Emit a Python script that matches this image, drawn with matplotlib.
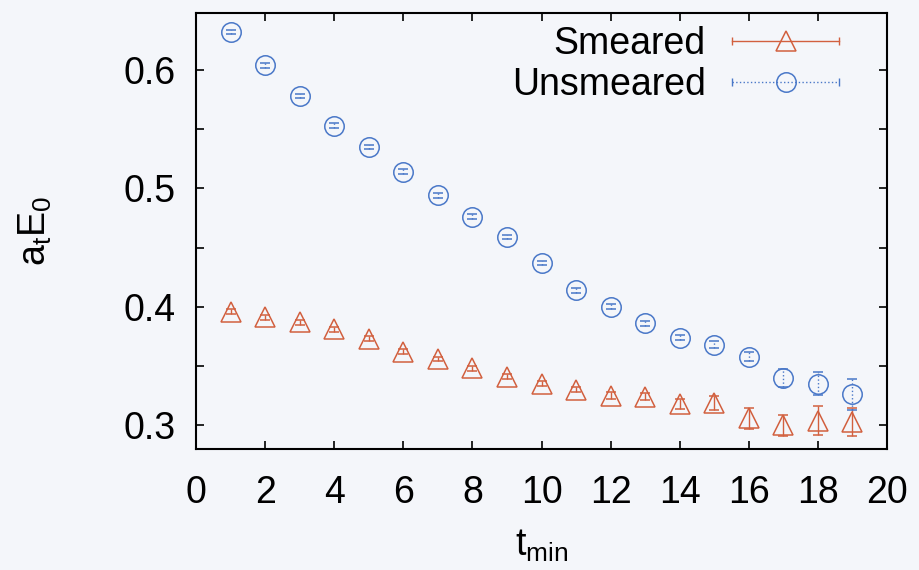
import matplotlib
matplotlib.use("Agg")
import matplotlib.pyplot as plt
from matplotlib.lines import Line2D
from matplotlib.legend_handler import HandlerBase
from matplotlib.ticker import MultipleLocator

plt.rcParams["font.family"] = ["Liberation Sans", "DejaVu Sans"]
plt.rcParams["mathtext.fontset"] = "custom"
plt.rcParams["mathtext.rm"] = "Liberation Sans"
plt.rcParams["mathtext.it"] = "Liberation Sans"

# data
t_min = list(range(1, 20))
smeared = [0.396, 0.391, 0.387, 0.381, 0.373, 0.362, 0.356, 0.348, 0.341, 0.335,
           0.330, 0.325, 0.324, 0.318, 0.319, 0.306, 0.300, 0.304, 0.303]
smeared_err = [0.002, 0.002, 0.002, 0.002, 0.002, 0.002, 0.002, 0.002, 0.002, 0.002,
               0.002, 0.003, 0.003, 0.004, 0.006, 0.009, 0.009, 0.012, 0.012]
unsmeared = [0.632, 0.604, 0.578, 0.553, 0.535, 0.514, 0.494, 0.476, 0.459, 0.437,
             0.414, 0.400, 0.386, 0.374, 0.368, 0.358, 0.340, 0.335, 0.326]
unsmeared_err = [0.002, 0.002, 0.002, 0.002, 0.002, 0.002, 0.002, 0.002, 0.002, 0.002,
                 0.002, 0.002, 0.002, 0.002, 0.003, 0.004, 0.0076, 0.0097, 0.0135]

RED = "#d2603f"
BLUE = "#4a78c8"
BG = "#f4f6fa"
FS = 27


class GnuErrHandler(HandlerBase):
    """gnuplot-like legend sample: horizontal bar with end caps, marker in middle."""

    def __init__(self, ls):
        super().__init__()
        self.ls = ls

    def create_artists(self, legend, orig_handle, xdescent, ydescent, width,
                       height, fontsize, trans):
        src = orig_handle.lines[0]
        c = src.get_markeredgecolor()
        y = height / 2 - ydescent
        x0, x1 = -xdescent, width - xdescent
        bar = Line2D([x0, x1], [y, y], color=c, lw=1.0, ls=self.ls, transform=trans)
        caps = Line2D([x0, x1], [y, y], ls="none", marker="|", ms=6, mew=1.0,
                      color=c, transform=trans)
        mk = Line2D([(x0 + x1) / 2], [y], ls="none", marker=src.get_marker(),
                    ms=src.get_markersize(), mfc="none", mec=c,
                    mew=src.get_markeredgewidth(), transform=trans)
        return [bar, caps, mk]


fig = plt.figure(figsize=(9.19, 5.70), dpi=100, facecolor=BG)
ax = fig.add_axes([0.2133, 0.2123, 0.7519, 0.7648])
ax.set_facecolor(BG)

eb_s = ax.errorbar(t_min, smeared, yerr=smeared_err, fmt="^", ms=14, mfc="none",
                   mec=RED, mew=1.1, ecolor=RED, elinewidth=1.0, capsize=3.5,
                   capthick=1.0, label="Smeared")
eb_u = ax.errorbar(t_min, unsmeared, yerr=unsmeared_err, fmt="o", ms=14, mfc="none",
                   mec=BLUE, mew=1.1, ecolor=BLUE, elinewidth=1.0, capsize=3.5,
                   capthick=1.0, label="Unsmeared")
eb_u[2][0].set_linestyle(":")

ax.set_xlim(0, 20)
ax.set_ylim(0.28, 0.648)
ax.xaxis.set_major_locator(MultipleLocator(2))
ax.yaxis.set_major_locator(MultipleLocator(0.1))
ax.yaxis.set_minor_locator(MultipleLocator(0.05))
ax.tick_params(which="both", direction="in", top=True, right=True,
               length=6, width=1.2, labelsize=FS)
ax.tick_params(axis="y", pad=15)
ax.tick_params(axis="x", pad=19)
for s in ax.spines.values():
    s.set_linewidth(1.5)

ax.set_xlabel(r"$\mathrm{t_{min}}$", fontsize=FS, labelpad=12)
ax.set_ylabel(r"$\mathrm{a_tE_0}$", fontsize=FS, labelpad=50)

ax.legend(handles=[eb_s, eb_u], labels=["Smeared", "Unsmeared"],
          handler_map={eb_s: GnuErrHandler("-"), eb_u: GnuErrHandler(":")},
          loc="upper right", bbox_to_anchor=(0.9305, 0.97), frameon=False,
          markerfirst=False, fontsize=FS, handlelength=2.85, handletextpad=0.7,
          labelspacing=0.12, borderpad=0, borderaxespad=0)

fig.savefig("out.png", dpi=100, facecolor=BG)
